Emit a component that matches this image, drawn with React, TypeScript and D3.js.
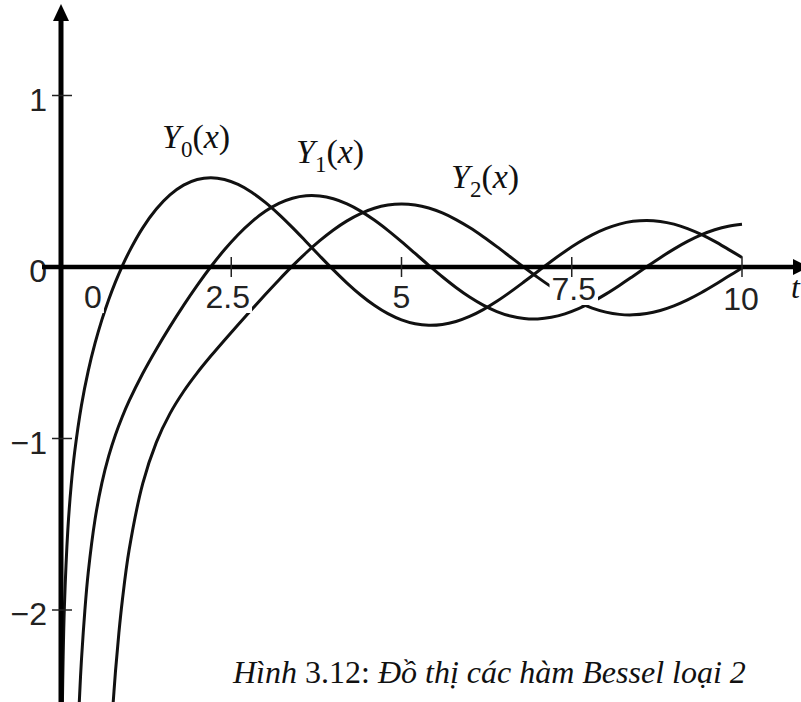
import React, { useEffect, useRef } from 'react';
import * as d3 from 'd3';

// Shared sample grid (x from 1.0 to 10.0, step 0.2)
const gridX = [
  1.0, 1.2, 1.4, 1.6, 1.8, 2.0, 2.2, 2.4, 2.6, 2.8, 3.0, 3.2, 3.4, 3.6, 3.8,
  4.0, 4.2, 4.4, 4.6, 4.8, 5.0, 5.2, 5.4, 5.6, 5.8, 6.0, 6.2, 6.4, 6.6, 6.8,
  7.0, 7.2, 7.4, 7.6, 7.8, 8.0, 8.2, 8.4, 8.6, 8.8, 9.0, 9.2, 9.4, 9.6, 9.8, 10.0,
];

// Y0(x)
const y0HeadX = [0.02, 0.03, 0.05, 0.1, 0.15, 0.2, 0.3, 0.4, 0.5, 0.6, 0.7, 0.8, 0.9];
const y0HeadY = [-2.564, -2.306, -1.979, -1.5342, -1.2707, -1.0811, -0.8073, -0.606, -0.4445, -0.3085, -0.1907, -0.0868, 0.0056];
const y0Values = [
  0.0883, 0.2281, 0.3379, 0.4204, 0.4774, 0.5104, 0.5208, 0.5104, 0.4813, 0.4359, 0.3769, 0.3071, 0.2296, 0.1477, 0.0645,
  -0.0169, -0.0938, -0.1633, -0.2235, -0.2723, -0.3085, -0.3313, -0.3402, -0.3354, -0.3177, -0.2882, -0.2483, -0.1999, -0.1452, -0.0864,
  -0.0259, 0.0339, 0.0907, 0.1424, 0.1872, 0.2235, 0.2501, 0.2662, 0.2715, 0.2659, 0.2499, 0.2243, 0.1902, 0.1491, 0.1028, 0.0557,
];

// Y1(x)
const y1HeadX = [0.26, 0.28, 0.3, 0.35, 0.4, 0.5, 0.6, 0.7, 0.8, 0.9];
const y1HeadY = [-2.611, -2.442, -2.2931, -2.0045, -1.7809, -1.4715, -1.2604, -1.1032, -0.9781, -0.8731];
const y1Values = [
  -0.7812, -0.6211, -0.4791, -0.3476, -0.2237, -0.107, 0.0015, 0.1005, 0.1884, 0.2635, 0.3247, 0.3707, 0.401, 0.4154, 0.4141,
  0.3979, 0.368, 0.326, 0.2737, 0.2136, 0.1479, 0.0792, 0.0101, -0.0568, -0.1192, -0.175, -0.2223, -0.2596, -0.2858, -0.3002,
  -0.3027, -0.2934, -0.2731, -0.2428, -0.2039, -0.1581, -0.1072, -0.0535, 0.0011, 0.0544, 0.1043, 0.1491, 0.1871, 0.2171, 0.2379, 0.249,
];

// Y2(x)
const y2HeadX = [0.75, 0.8, 0.85, 0.9];
const y2HeadY = [-2.63, -2.3585, -2.133, -1.9458];
const y2Values = [
  -1.6507, -1.2633, -1.0223, -0.8549, -0.726, -0.6174, -0.5194, -0.4266, -0.3364, -0.2477, -0.1604, -0.0754, 0.0063, 0.0831, 0.1534,
  0.2159, 0.269, 0.3115, 0.3425, 0.3613, 0.3677, 0.3618, 0.3439, 0.3151, 0.2766, 0.2299, 0.1766, 0.1188, 0.0586, -0.0019,
  -0.0606, -0.1154, -0.1645, -0.2063, -0.2395, -0.263, -0.2762, -0.2789, -0.2712, -0.2535, -0.2267, -0.1919, -0.1504, -0.1039, -0.0542, -0.0059,
];

const seriesOrders = ['0', '1', '2'];

const xTicks = [0, 2.5, 5, 7.5, 10];
const xTickLabels = ['0', '2.5', '5', '7.5', '10'];
const yTicks = [1, 0, -1, -2];
const yTickLabels = ['1', '0', '\u22121', '\u22122'];

const captionLead = 'Hình ';
const captionNumber = '3.12:';
const captionText = ' Đồ thị các hàm Bessel loại 2';

export default function App() {
  const ref = useRef<SVGSVGElement>(null);

  useEffect(() => {
    const W = 801;
    const H = 702;
    const svg = d3.select(ref.current as SVGSVGElement);
    svg.selectAll('*').remove();

    const x = d3.scaleLinear().domain([0, 10]).range([61, 742]);
    const y = d3.scaleLinear().domain([-2, 1]).range([610, 95.5]);

    const x0 = x(0);
    const yZero = y(0);

    const series = [
      { xs: [...y0HeadX, ...gridX], ys: [...y0HeadY, ...y0Values] },
      { xs: [...y1HeadX, ...gridX], ys: [...y1HeadY, ...y1Values] },
      { xs: [...y2HeadX, ...gridX], ys: [...y2HeadY, ...y2Values] },
    ];

    const line = d3
      .line<[number, number]>()
      .x((d) => x(d[0]))
      .y((d) => y(d[1]))
      .curve(d3.curveCatmullRom.alpha(0.5));

    // Curves
    const curves = svg.append('g').attr('fill', 'none').attr('stroke', '#111').attr('stroke-width', 3);
    series.forEach((s) => {
      const pts = s.xs.map((v, i) => [v, s.ys[i]] as [number, number]);
      curves.append('path').attr('d', line(pts) as string);
    });

    // Curve names
    const labelPos = [
      [162, 148],
      [296, 163],
      [451, 188],
    ];
    seriesOrders.forEach((n, i) => {
      const t = svg
        .append('text')
        .attr('x', labelPos[i][0])
        .attr('y', labelPos[i][1])
        .attr('font-family', '"Liberation Serif", "Times New Roman", serif')
        .attr('font-size', 34)
        .attr('fill', '#111');
      t.append('tspan').attr('font-style', 'italic').text('Y');
      t.append('tspan').attr('font-size', 23).attr('dy', 9).text(n);
      t.append('tspan').attr('dy', -9).text('(');
      t.append('tspan').attr('font-style', 'italic').text('x');
      t.append('tspan').text(')');
    });

    // X tick labels (white boxes behind them)
    const xLabelDx = [32, -3.5, 0, 2, -1];
    const xLabelBase = [41, 41, 41, 33, 43];
    const xl = svg.append('g');
    xTicks.forEach((v, i) => {
      const g = xl.append('g');
      const txt = g
        .append('text')
        .attr('x', x(v) + xLabelDx[i])
        .attr('y', yZero + xLabelBase[i])
        .attr('text-anchor', 'middle')
        .attr('font-family', '"Liberation Sans", Arial, sans-serif')
        .attr('font-size', 32)
        .attr('fill', '#222')
        .text(xTickLabels[i]);
      const bb = (txt.node() as SVGTextElement).getBBox();
      g.insert('rect', 'text')
        .attr('x', bb.x - 2)
        .attr('y', bb.y + 2)
        .attr('width', bb.width + 4)
        .attr('height', bb.height - 4)
        .attr('fill', '#fff');
    });

    // Y tick labels
    yTicks.forEach((v, i) => {
      svg
        .append('text')
        .attr('x', 47)
        .attr('y', y(v) + 15)
        .attr('text-anchor', 'end')
        .attr('font-family', '"Liberation Sans", Arial, sans-serif')
        .attr('font-size', 32)
        .attr('fill', '#222')
        .text(yTickLabels[i]);
    });

    // Axes
    svg
      .append('line')
      .attr('x1', x0)
      .attr('x2', x0)
      .attr('y1', 18)
      .attr('y2', H)
      .attr('stroke', '#000')
      .attr('stroke-width', 5);
    svg
      .append('path')
      .attr('d', `M${x0},4 L${x0 + 8},21 L${x0 - 8},21 Z`)
      .attr('fill', '#000');

    svg
      .append('line')
      .attr('x1', 42)
      .attr('x2', 795)
      .attr('y1', yZero)
      .attr('y2', yZero)
      .attr('stroke', '#000')
      .attr('stroke-width', 4.5);
    svg
      .append('path')
      .attr('d', `M${W + 8},${yZero} L${W - 8},${yZero - 8} L${W - 8},${yZero + 8} Z`)
      .attr('fill', '#000');

    // Ticks
    xTicks.filter((v) => v > 0).forEach((v) => {
      svg
        .append('line')
        .attr('x1', x(v))
        .attr('x2', x(v))
        .attr('y1', yZero - 10)
        .attr('y2', yZero + 10)
        .attr('stroke', '#222')
        .attr('stroke-width', 1.5);
    });
    yTicks.filter((v) => v !== 0).forEach((v) => {
      svg
        .append('line')
        .attr('x1', x0 - 9)
        .attr('x2', x0 + 11)
        .attr('y1', y(v))
        .attr('y2', y(v))
        .attr('stroke', '#222')
        .attr('stroke-width', 1.5);
    });

    // Axis name
    svg
      .append('text')
      .attr('x', 791)
      .attr('y', 298)
      .attr('font-family', '"Liberation Serif", "Times New Roman", serif')
      .attr('font-style', 'italic')
      .attr('font-size', 32)
      .attr('fill', '#111')
      .text('t');

    // Caption
    const cap = svg
      .append('text')
      .attr('x', 233)
      .attr('y', 683)
      .attr('font-family', '"Liberation Serif", "Times New Roman", serif')
      .attr('font-size', 32)
      .attr('fill', '#111');
    cap.append('tspan').attr('font-style', 'italic').text(captionLead);
    cap.append('tspan').text(captionNumber);
    cap.append('tspan').attr('font-style', 'italic').text(captionText);
  }, []);

  return (
    <svg
      ref={ref}
      width={801}
      height={702}
      style={{ position: 'absolute', left: 0, top: 0, background: '#fff', display: 'block' }}
    />
  );
}
